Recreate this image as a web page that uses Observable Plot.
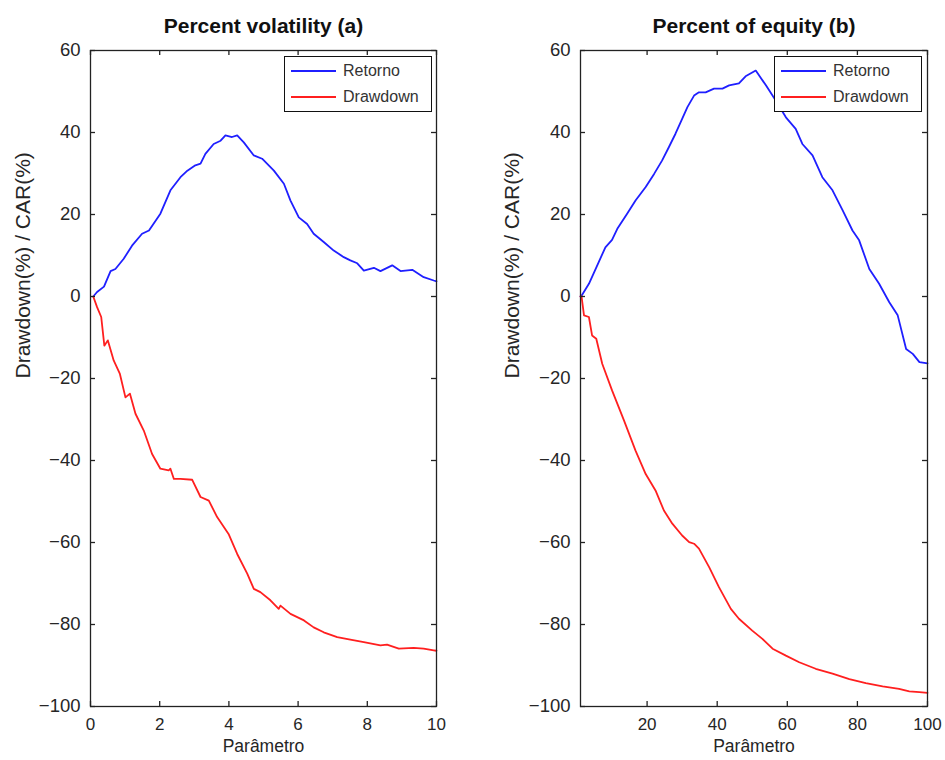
<!DOCTYPE html>
<html>
<head>
<meta charset="utf-8">
<script src="https://cdn.jsdelivr.net/npm/d3@7"></script>
<script src="https://cdn.jsdelivr.net/npm/@observablehq/plot@0.6"></script>
<style>
  html, body { margin: 0; padding: 0; background: #fff; }
  #wrap { position: relative; width: 945px; height: 760px; font-family: "Liberation Sans", Arial, sans-serif; }
  .panel { position: absolute; top: 0; }
  .legend { position: absolute; border: 1.3px solid #111; background: #fff; box-sizing: border-box; font-size: 16px; color: #333; }
  .legend .row { position: absolute; left: 0; display: flex; align-items: center; }
  .legend .sw { width: 45px; height: 0; border-top: 2px solid; margin-left: 6px; margin-right: 7px; }
</style>
</head>
<body>
<div id="wrap"></div>
<script>
// ---- Data ----
const seriesNames = ["Retorno", "Drawdown"];
const seriesColors = ["#1f1fff", "#ff1f1f"];

// Panel (a): Percent volatility
const volX_ret = [0.08,0.19,0.39,0.58,0.72,0.96,1.2,1.49,1.69,2.02,2.31,2.6,2.8,3.03,3.18,3.32,3.56,3.76,3.9,4.09,4.24,4.43,4.72,4.96,5.3,5.59,5.78,6.02,6.26,6.45,6.74,7.03,7.32,7.51,7.71,7.9,8.19,8.38,8.72,8.96,9.3,9.63,9.92,10];
const volY_ret = [0,1.1,2.4,6.2,6.7,9.2,12.4,15.3,16.1,20.2,25.9,29.1,30.7,32,32.4,34.8,37.2,38,39.3,38.9,39.3,37.6,34.4,33.6,30.7,27.5,23.4,19.3,17.7,15.3,13.3,11.2,9.6,8.8,8.1,6.3,7.0,6.2,7.6,6.2,6.5,4.7,3.9,3.7];
const volX_dd = [0.08,0.19,0.31,0.4,0.5,0.67,0.85,1.01,1.14,1.3,1.54,1.78,2.02,2.26,2.31,2.41,2.6,2.94,3.18,3.42,3.66,3.99,4.24,4.53,4.72,4.91,5.2,5.44,5.49,5.78,6.17,6.45,6.74,7.13,7.51,7.9,8.38,8.57,8.91,9.34,9.63,9.92,10];
const volY_dd = [0,-2.6,-5,-12,-10.7,-15.6,-18.9,-24.6,-23.7,-28.6,-32.7,-38.4,-42,-42.4,-42,-44.5,-44.5,-44.7,-48.9,-49.8,-53.8,-57.9,-62.8,-67.6,-71.3,-72.1,-74.1,-76.2,-75.4,-77.4,-79,-80.7,-81.9,-83.1,-83.7,-84.3,-85.1,-84.9,-85.9,-85.7,-85.9,-86.3,-86.4];

// Panel (b): Percent of equity
const eqX_ret = [1,1.3,3.4,6.2,8.1,10,11.5,14.3,16.7,19.6,22,24.3,26.2,28.1,30,31.5,33.4,34.8,36.7,39.1,41.5,43.4,46.2,48.1,51,53.9,56.7,59.6,62.4,64.3,67.2,70,72.9,75.8,78.6,80.5,83.4,86.2,89.1,91.5,93.9,95.8,97.7,100];
const eqY_ret = [0,0.2,3.1,8.4,12,13.8,16.5,20.2,23.4,26.7,29.9,33.2,36.4,39.7,43.3,46.2,49,49.8,49.8,50.7,50.7,51.5,52,53.7,55.1,51.5,47.8,43.7,40.9,37.2,34.4,29.1,25.9,21,16.1,13.7,6.7,3.1,-1.4,-4.6,-12.8,-14,-16,-16.3];
const eqX_dd = [1,1.3,2,3.4,4.3,5.5,7.2,10,13.4,16.7,19.6,22.4,24.8,27.2,30,32,33.4,34.8,37.7,40.5,43.9,46.2,50,52.9,55.8,59.6,63.4,68.1,72.9,77.7,82.4,87.2,91.9,94.8,97.7,100];
const eqY_dd = [0,0,-4.6,-5,-9.5,-10.3,-16.4,-22.9,-30.2,-37.6,-43.3,-47.3,-52.2,-55.4,-58.3,-59.9,-60.3,-61.5,-66,-70.9,-76.2,-78.6,-81.5,-83.5,-85.9,-87.6,-89.2,-90.8,-92,-93.3,-94.3,-95.1,-95.7,-96.3,-96.5,-96.7];

const yTicks = [-100,-80,-60,-40,-20,0,20,40,60];
const volXTicks = [0,2,4,6,8,10];
const eqXTicks = [20,40,60,80,100];
const titles = ["Percent volatility (a)", "Percent of equity (b)"];
const xLabel = "Parâmetro";
const yLabel = "Drawdown(%) / CAR(%)";

// ---- Drawing ----
function toRows(xs, ys, name) { return xs.map((x, i) => ({x, y: ys[i], s: name})); }

function panel({left, width, marginLeft, marginRight, xDomain, xTicks, title, retX, retY, ddX, ddY, legendLeft, yLabelX}) {
  const height = 760, marginTop = 50, marginBottom = 54;
  const fw = width - marginLeft - marginRight;
  const fh = height - marginTop - marginBottom;
  const rows = [...toRows(retX, retY, seriesNames[0]), ...toRows(ddX, ddY, seriesNames[1])];
  const tickLen = 5;
  const p = Plot.plot({
    width, height, marginLeft, marginRight, marginTop, marginBottom,
    style: {fontFamily: "'Liberation Sans', Arial, sans-serif", background: "#fff", color: "#262626"},
    x: {domain: xDomain, label: null},
    y: {domain: [-100, 60], label: null},
    color: {domain: seriesNames, range: seriesColors},
    marks: [
      Plot.line(rows, {x: "x", y: "y", z: "s", stroke: "s", strokeWidth: 1.8}),
      Plot.frame({stroke: "#222", strokeWidth: 1.3}),
      Plot.tickY(yTicks, {y: d => d, insetRight: fw - tickLen, stroke: "#222", strokeWidth: 1.3}),
      Plot.tickY(yTicks, {y: d => d, insetLeft: fw - tickLen, stroke: "#222", strokeWidth: 1.3}),
      Plot.tickX(xTicks, {x: d => d, insetTop: fh - tickLen, stroke: "#222", strokeWidth: 1.3}),
      Plot.tickX(xTicks, {x: d => d, insetBottom: fh - tickLen, stroke: "#222", strokeWidth: 1.3}),
      Plot.axisY(yTicks, {anchor: "left", tickSize: 0, tickPadding: 10, label: null, fontSize: "18.5px", fill: "#262626"}),
      Plot.axisX(xTicks, {anchor: "bottom", tickSize: 0, tickPadding: 11, label: null, fontSize: "17px", fill: "#262626"}),
      Plot.text([title], {frameAnchor: "top", dy: -32, text: d => d, fontSize: 21, fontWeight: "bold", fill: "#111"}),
      Plot.text([xLabel], {frameAnchor: "bottom", dy: 45, text: d => d, fontSize: 17.5, fill: "#262626"}),
      Plot.text([yLabel], {frameAnchor: "left", dx: yLabelX - marginLeft, rotate: -90, text: d => d, fontSize: 21, fill: "#262626"})
    ]
  });
  const div = document.createElement("div");
  div.className = "panel";
  div.style.left = left + "px";
  div.appendChild(p);
  document.getElementById("wrap").appendChild(div);

  // legend box
  const lg = document.createElement("div");
  lg.className = "legend";
  lg.style.left = legendLeft + "px";
  lg.style.top = "56px";
  lg.style.width = "148px";
  lg.style.height = "56px";
  seriesNames.forEach((n, i) => {
    const r = document.createElement("div");
    r.className = "row";
    r.style.top = (4 + i * 26) + "px";
    r.style.height = "20px";
    const sw = document.createElement("div");
    sw.className = "sw";
    sw.style.borderColor = seriesColors[i];
    const t = document.createElement("span");
    t.textContent = n;
    r.appendChild(sw); r.appendChild(t);
    lg.appendChild(r);
  });
  document.getElementById("wrap").appendChild(lg);
}

panel({left: 0, width: 472, marginLeft: 90, marginRight: 36, xDomain: [0, 10], xTicks: volXTicks, title: titles[0],
  retX: volX_ret, retY: volY_ret, ddX: volX_dd, ddY: volY_dd, legendLeft: 284, yLabelX: 23});
panel({left: 472, width: 473, marginLeft: 108, marginRight: 18, xDomain: [1, 100], xTicks: eqXTicks, title: titles[1],
  retX: eqX_ret, retY: eqY_ret, ddX: eqX_dd, ddY: eqY_dd, legendLeft: 774, yLabelX: 40});
</script>
</body>
</html>
